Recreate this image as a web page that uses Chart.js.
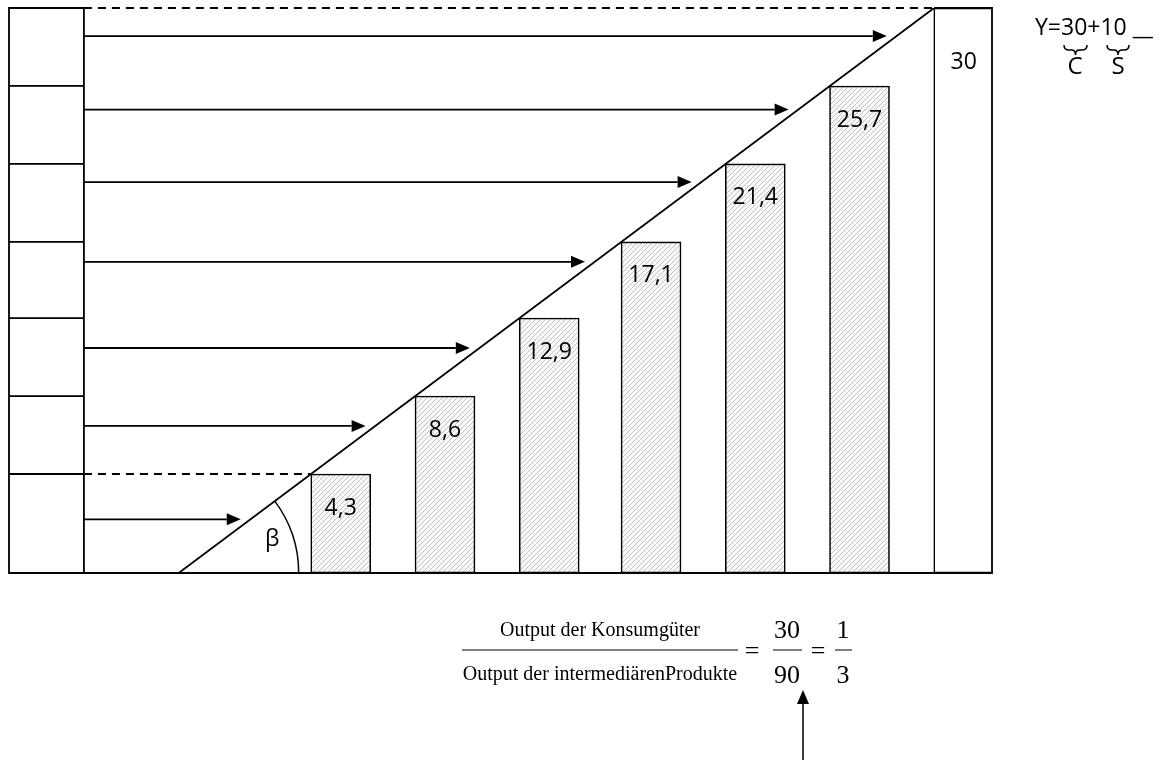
<!DOCTYPE html>
<html>
<head>
<meta charset="utf-8">
<script src="https://cdn.jsdelivr.net/npm/chart.js@4/dist/chart.umd.min.js"></script>
<style>
  body { margin: 0; background: #fff; }
  canvas { display: block; }
</style>
</head>
<body>
<canvas id="c" width="1160" height="760"></canvas>
<script>
// Werte der Säulen (Output je Stufe) und ihre Beschriftungen
const barValues = [4.3, 8.6, 12.9, 17.1, 21.4, 25.7, 30];
const barLabels = ['4,3', '8,6', '12,9', '17,1', '21,4', '25,7', '30'];
// Höhen der Pfeile (intermediäre Produkte)
const arrowLevels = [1.8, 6.95, 11.25, 16.0, 20.4, 24.4, 28.45];

// Bereich der Achsen (versteckt)
const yMin = -1.16, yMax = 30;
const xMin = -8.16, xMax = 32.39;
const columnX = -5.07;
const barWidth = 2.45;
const arrowGap = 0.4;
const betaRadius = 4.95;

// Formel unten
const numText = 'Output der Konsumgüter';
const denText = 'Output der intermediärenProdukte';
const ratioA = ['30', '90'];
const ratioB = ['1', '3'];

// Schraffur für die Säulen
function makeHatch() {
    let c = document.createElement('canvas');
    c.width = 5; c.height = 5;
    let g = c.getContext('2d');
    g.fillStyle = '#f8f8f8';
    g.fillRect(0, 0, 5, 5);
    g.strokeStyle = '#c2c2c2';
    g.lineWidth = 1;
    g.beginPath();
    g.moveTo(-1, 6); g.lineTo(6, -1);
    g.moveTo(-1, 1); g.lineTo(1, -1);
    g.moveTo(4, 6); g.lineTo(6, 4);
    g.stroke();
    return g.createPattern(c, 'repeat');
}
const hatch = makeHatch();

function arrow(ctx, x1, y1, x2, y2) {
    let a = Math.atan2(y2 - y1, x2 - x1);
    let len = 14, w = 6;
    ctx.beginPath();
    ctx.moveTo(x1, y1);
    ctx.lineTo(x2 - len * Math.cos(a), y2 - len * Math.sin(a));
    ctx.stroke();
    ctx.beginPath();
    ctx.moveTo(x2, y2);
    ctx.lineTo(x2 - len * Math.cos(a) - w * Math.sin(a), y2 - len * Math.sin(a) + w * Math.cos(a));
    ctx.lineTo(x2 - len * Math.cos(a) + w * Math.sin(a), y2 - len * Math.sin(a) - w * Math.cos(a));
    ctx.closePath();
    ctx.fill();
}

const diagramPlugin = {
    id: 'diagram',
    afterDatasetsDraw(chart) {
        const ctx = chart.ctx;
        const xs = chart.scales.x, ys = chart.scales.y;
        const a = chart.chartArea;
        const colX = xs.getPixelForValue(columnX);
        ctx.save();
        ctx.strokeStyle = '#000';
        ctx.fillStyle = '#000';
        ctx.lineWidth = 1.8;

        // Rahmen
        ctx.beginPath();
        ctx.moveTo(colX, a.top); ctx.lineTo(a.left, a.top);
        ctx.lineTo(a.left, a.bottom); ctx.lineTo(a.right, a.bottom);
        ctx.lineTo(a.right, a.top); ctx.lineTo(xs.getPixelForValue(30), a.top);
        ctx.moveTo(colX, a.top); ctx.lineTo(colX, a.bottom);
        ctx.stroke();

        // linke Spalte
        ctx.beginPath();
        barValues.slice(0, 6).forEach(v => {
            let y = ys.getPixelForValue(v);
            ctx.moveTo(a.left, y); ctx.lineTo(colX, y);
        });
        ctx.stroke();

        // gestrichelte Linien
        ctx.setLineDash([8, 6]);
        ctx.beginPath();
        ctx.moveTo(colX, ys.getPixelForValue(30));
        ctx.lineTo(xs.getPixelForValue(30), ys.getPixelForValue(30));
        ctx.moveTo(colX, ys.getPixelForValue(barValues[0]));
        ctx.lineTo(xs.getPixelForValue(barValues[0]), ys.getPixelForValue(barValues[0]));
        ctx.stroke();
        ctx.setLineDash([]);

        // Pfeile
        arrowLevels.forEach(v => {
            let y = ys.getPixelForValue(v);
            arrow(ctx, colX, y, xs.getPixelForValue(v - arrowGap), y);
        });

        // Winkel beta
        let cx = xs.getPixelForValue(yMin), cy = ys.getPixelForValue(yMin);
        let r = xs.getPixelForValue(yMin + betaRadius) - cx;
        let ang = Math.atan2(ys.getPixelForValue(30) - cy, xs.getPixelForValue(30) - cx);
        ctx.lineWidth = 1.5;
        ctx.beginPath();
        ctx.arc(cx, cy, r, ang, 0);
        ctx.stroke();

        ctx.font = '23px "Open Sans"';
        ctx.textAlign = 'center';
        ctx.textBaseline = 'middle';
        ctx.fillText('β', cx + r * 0.78, cy - 34);

        // Beschriftung der Säulen
        barValues.forEach((v, i) => {
            let x = xs.getPixelForValue(v + barWidth / 2);
            let y = ys.getPixelForValue(v) + (i == 6 ? 54 : 34);
            ctx.fillText(barLabels[i], x, y);
        });
        ctx.restore();
    },
    afterDraw(chart) {
        const ctx = chart.ctx;
        ctx.save();
        ctx.fillStyle = '#000';
        ctx.strokeStyle = '#000';

        // Y = C + S oben rechts
        ctx.font = '23px "Open Sans"';
        ctx.textAlign = 'left';
        ctx.textBaseline = 'alphabetic';
        ctx.fillText('Y=30+10 __', 1035, 35);
        ctx.lineWidth = 1.5;
        [[1064, 1087], [1107, 1129]].forEach(b => {
            let m = (b[0] + b[1]) / 2, y0 = 45;
            ctx.beginPath();
            ctx.moveTo(b[0], y0);
            ctx.quadraticCurveTo(b[0], y0 + 5, b[0] + 5, y0 + 5);
            ctx.lineTo(m - 4, y0 + 5);
            ctx.quadraticCurveTo(m, y0 + 5, m, y0 + 10);
            ctx.quadraticCurveTo(m, y0 + 5, m + 4, y0 + 5);
            ctx.lineTo(b[1] - 5, y0 + 5);
            ctx.quadraticCurveTo(b[1], y0 + 5, b[1], y0);
            ctx.stroke();
        });
        ctx.textAlign = 'center';
        ctx.font = '24px "Open Sans"';
        ctx.fillText('C', 1075, 74);
        ctx.fillText('S', 1118, 74);

        // Formel
        ctx.font = '20px "Liberation Serif"';
        ctx.fillText(numText, 600, 636);
        ctx.fillText(denText, 600, 680);
        ctx.lineWidth = 1.2;
        ctx.beginPath();
        ctx.moveTo(462, 650); ctx.lineTo(738, 650);
        ctx.moveTo(773, 650); ctx.lineTo(802, 650);
        ctx.moveTo(835, 650); ctx.lineTo(852, 650);
        ctx.stroke();
        ctx.font = '26px "Liberation Serif"';
        ctx.fillText('=', 752, 659);
        ctx.fillText('=', 818, 659);
        ctx.fillText(ratioA[0], 787, 638);
        ctx.fillText(ratioA[1], 787, 683);
        ctx.fillText(ratioB[0], 843, 638);
        ctx.fillText(ratioB[1], 843, 683);

        ctx.lineWidth = 1.5;
        arrow(ctx, 803, 760, 803, 690);
        ctx.restore();
    }
};

new Chart(document.getElementById('c'), {
    type: 'bar',
    data: {
        datasets: [{
            type: 'bar',
            data: barValues.map(v => ({ x: v + barWidth / 2, y: [yMin, v] })),
            backgroundColor: barValues.map((v, i) => i < 6 ? hatch : '#ffffff'),
            borderColor: '#000',
            borderWidth: 1.6,
            borderSkipped: false,
            barThickness: 60,
            order: 2
        }, {
            type: 'line',
            data: [{ x: yMin, y: yMin }, { x: 30, y: 30 }],
            borderColor: '#000',
            borderWidth: 1.8,
            pointRadius: 0,
            order: 1
        }]
    },
    options: {
        responsive: false,
        animation: false,
        layout: { padding: { left: 9, top: 8, right: 168, bottom: 187 } },
        scales: {
            x: { type: 'linear', min: xMin, max: xMax, offset: false, display: false },
            y: { min: yMin, max: yMax, display: false }
        },
        plugins: { legend: { display: false }, tooltip: { enabled: false } }
    },
    plugins: [diagramPlugin]
});
</script>
</body>
</html>
